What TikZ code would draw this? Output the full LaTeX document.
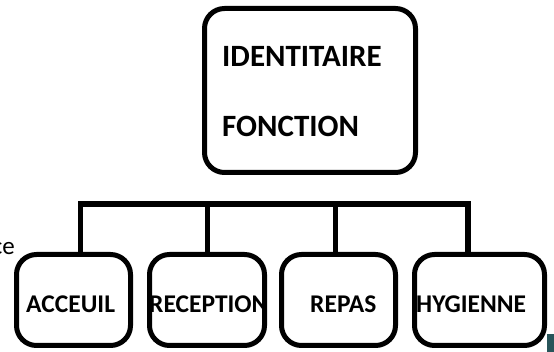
\documentclass[tikz,border=0pt]{standalone}
\usepackage{fontspec}
\setmainfont{Carlito}
\begin{document}
\begin{tikzpicture}[x=1pt,y=-1pt,
  box/.style={draw=black,line width=5pt,rounded corners=20pt,fill=white,inner sep=0pt},
  conn/.style={draw=black,line width=5.5pt,line join=miter},
  toptext/.style={font=\bfseries\fontsize{31}{31}\selectfont,anchor=base west,inner sep=0pt},
  lowtext/.style={font=\bfseries\fontsize{25.5}{25.5}\selectfont,anchor=base west,inner sep=0pt}]
\useasboundingbox (0,0) rectangle (554,352);
% top box
\node[box,minimum width=211pt,minimum height=164pt] (top) at (310,90.5) {};
\node[toptext] (t1) at (222,67) {IDENTITAIRE};
\node[toptext] (t2) at (222,137) {FONCTION};
% bottom boxes
\node[box,minimum width=114pt,minimum height=91pt] (acc) at (73.5,300) {};
\node[box,minimum width=115pt,minimum height=91pt] (rec) at (207,300) {};
\node[box,minimum width=114pt,minimum height=91pt] (rep) at (338.5,300) {};
\node[box,minimum width=130pt,minimum height=91pt] (hyg) at (479.5,300) {};
\node[lowtext] (l1) at (26,313) {ACCEUIL};
\node[lowtext] (l2) at (149,313) {RECEPTION};
\node[lowtext] (l3) at (310,313) {REPAS};
\node[lowtext] (l4) at (416,313) {HYGIENNE};
% junctions on the bar
\coordinate (j1) at (80.5,204);
\coordinate (j2) at (207.5,204);
\coordinate (j3) at (335.5,204);
\coordinate (j4) at (468,204);
\draw[conn] (acc.north -| j1) -- (j1) -- (j4) -- (hyg.north -| j4);
\draw[conn] (j2) -- (rec.north -| j2);
\draw[conn] (j3) -- (rep.north -| j3);
% partial text at left edge
\node[font=\fontsize{25}{25}\selectfont,anchor=base east,inner sep=0pt] (ce) at (15,255) {ce};
% corner fragment
\fill[fill={rgb,255:red,40;green,85;blue,90}] (547,334) rectangle (554,352);
\end{tikzpicture}
\end{document}
